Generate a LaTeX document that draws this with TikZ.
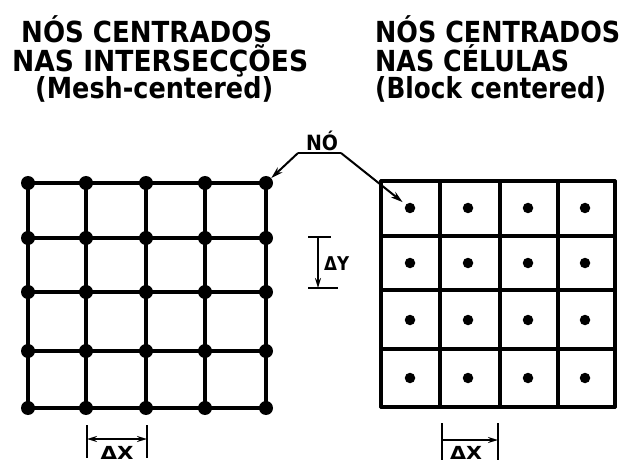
\documentclass[tikz,border=0pt]{standalone}
\usepackage{fontspec}
\usepackage{graphicx}
\setmainfont{DejaVu Sans}
\usetikzlibrary{arrows.meta}

% set a line of lettering to a given width, keeping its height
\newcommand\fitw[2]{\resizebox{#1}{\height}{#2}}

\begin{document}
\begin{tikzpicture}[x=1pt,y=-1pt,
  gridline/.style={line width=3.2pt,line cap=round,line join=round},
  dimline/.style={line width=2.2pt},
  tip/.style={-{Stealth[length=10pt,width=6pt]}},
  leader/.style={line width=2pt,-{Stealth[length=12pt,width=7pt]}},
  bigdot/.style={circle,fill=black,inner sep=0pt,minimum size=14pt},
  smalldot/.style={circle,fill=black,inner sep=0pt,minimum size=10.5pt},
  title/.style={anchor=base west,inner sep=0pt,font=\fontsize{29}{29}\selectfont\bfseries},
  dimlabel/.style={inner sep=0pt,font=\fontsize{18}{18}\selectfont\bfseries}]
\useasboundingbox (0,0) rectangle (627,468);

% headings
\node[title] (t1) at (21,43) {\fitw{251pt}{NÓS CENTRADOS}};
\node[title] (t2) at (12,72) {\fitw{296pt}{NAS INTERSECÇÕES}};
\node[title] (t3) at (35,99) {\fitw{238pt}{(Mesh-centered)}};
\node[title] (t4) at (375,43) {\fitw{245pt}{NÓS CENTRADOS}};
\node[title] (t5) at (375,72) {\fitw{194pt}{NAS CÉLULAS}};
\node[title] (t6) at (375,99) {\fitw{231pt}{(Block centered)}};

% mesh-centred grid: nodes on the intersections
\foreach \x [count=\i] in {28,86,146,205,266}
  \foreach \y [count=\j] in {183,238,292,351,408}
    \coordinate (m-\j-\i) at (\x,\y);
\foreach \j in {1,...,5}
  \draw[gridline] (m-\j-1) -- (m-\j-5);
\foreach \i in {1,...,5}
  \draw[gridline] (m-1-\i) -- (m-5-\i);
\foreach \i in {1,...,5}
  \foreach \j in {1,...,5}
    \node[bigdot] (n-\j-\i) at (m-\j-\i) {};

% block-centred grid: nodes in the cells
\foreach \x [count=\i] in {381,440,500,558,615}
  \foreach \y [count=\j] in {181,236,290,349,407}
    \coordinate (b-\j-\i) at (\x,\y);
\foreach \j in {1,...,5}
  \draw[gridline] (b-\j-1) -- (b-\j-5);
\foreach \i in {1,...,5}
  \draw[gridline] (b-1-\i) -- (b-5-\i);
\foreach \x [count=\i] in {410,468,528,585}
  \foreach \y [count=\j] in {208,263,320,378}
    \node[smalldot] (c-\j-\i) at (\x,\y) {};

% node label with leaders
\node[inner sep=0pt,anchor=base,font=\fontsize{21}{21}\selectfont\bfseries] (no) at (322,151) {\fitw{32pt}{NÓ}};
\coordinate (nl) at (298,153);
\coordinate (nr) at (341,153);
\draw[line width=2pt] (nl) -- (nr);
\draw[leader] (nl) -- (n-1-5);
\draw[leader,shorten >=4pt] (nr) -- (c-1-1);

% Delta X, left
\coordinate (lxa) at (87,425);
\coordinate (lxb) at (87,458);
\coordinate (lxc) at (147,425);
\coordinate (lxd) at (147,458);
\draw[dimline] (lxa) -- (lxb);
\draw[dimline] (lxc) -- (lxd);
\coordinate (lx1) at (87,439);
\coordinate (lx2) at (147,439);
\draw[dimline,{Stealth[length=10pt,width=6pt]}-{Stealth[length=10pt,width=6pt]}] (lx1) -- (lx2);
\node[dimlabel,anchor=base] (dxl) at (117,459) {\fitw{33pt}{ΔX}};

% Delta X, right
\coordinate (rxa) at (442,423);
\coordinate (rxb) at (442,460);
\coordinate (rxc) at (498,423);
\coordinate (rxd) at (498,460);
\draw[dimline] (rxa) -- (rxb);
\draw[dimline] (rxc) -- (rxd);
\coordinate (rx1) at (442,440);
\coordinate (rx2) at (498,440);
\draw[dimline,tip] (rx1) -- (rx2);
\node[dimlabel,anchor=base] (dxr) at (466,459) {\fitw{32pt}{ΔX}};

% Delta Y
\coordinate (ya) at (308,237);
\coordinate (yb) at (331,237);
\coordinate (yc) at (308,288);
\coordinate (yd) at (338,288);
\draw[dimline] (ya) -- (yb);
\draw[dimline] (yc) -- (yd);
\coordinate (y1) at (318,237);
\coordinate (y2) at (318,288);
\draw[dimline,tip] (y1) -- (y2);
\node[dimlabel,anchor=base west,font=\fontsize{19}{19}\selectfont\bfseries] (dy) at (324,270) {\fitw{25pt}{ΔY}};
\end{tikzpicture}
\end{document}
